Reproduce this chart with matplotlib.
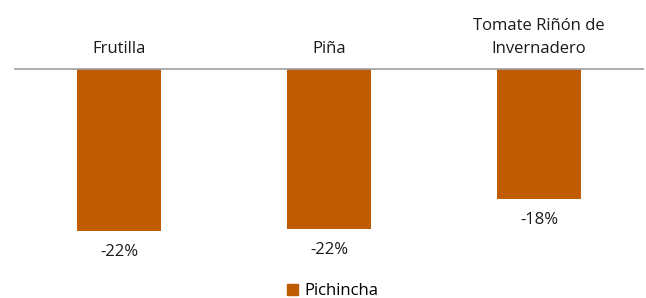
import matplotlib.pyplot as plt
from matplotlib.patches import Patch

# datos
productos = ['Frutilla', 'Piña', 'Tomate Riñón de\nInvernadero']
pichincha = [-22.0, -21.7, -17.7]
etiquetas = ['-22%', '-22%', '-18%']

COLOR = '#BF5B00'
plt.rcParams['font.family'] = ['Open Sans', 'DejaVu Sans']
FS = 12

fig = plt.figure(figsize=(6.46, 2.98), dpi=100)
ax = fig.add_axes([14 / 646, 0, 630 / 646, 1])

x = range(len(productos))
ax.bar(x, pichincha, width=0.4, color=COLOR, zorder=2)
ax.axhline(0, color='#A0A0A0', lw=1.2, zorder=3)

ax.set_xlim(-0.5, 2.5)
ax.set_ylim(-(298 - 69) / 7.36, 69 / 7.36)
ax.axis('off')

for i, (v, txt) in enumerate(zip(pichincha, etiquetas)):
    ax.annotate(txt, (i, v), xytext=(0, -21 * 0.72), textcoords='offset points',
                ha='center', va='center', fontsize=FS, color='#1a1a1a')
    ax.annotate(productos[i], (i, 0), xytext=(0, 12 * 0.72), textcoords='offset points',
                ha='center', va='bottom', fontsize=FS, color='#1a1a1a',
                linespacing=1.55)

fig.legend(handles=[Patch(color=COLOR, label='Pichincha')], loc='center',
           bbox_to_anchor=(333 / 646, 1 - 291 / 298), frameon=False,
           handlelength=0.65, handleheight=0.65, handletextpad=0.4,
           fontsize=FS)

fig.savefig('out.png', dpi=100)
